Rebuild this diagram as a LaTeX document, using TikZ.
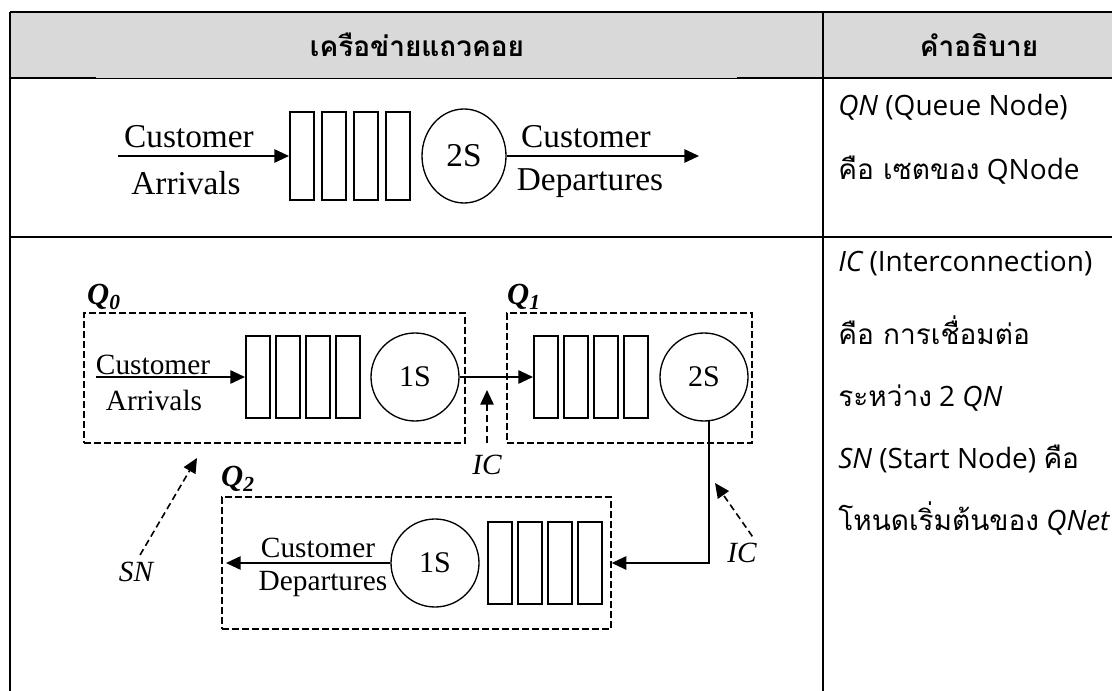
\documentclass[tikz,border=0pt]{standalone}
\usepackage{fontspec}
\setmainfont{Liberation Serif}
\newfontfamily\thaifont[Script=Thai]{Loma}
\newfontfamily\latinsans{Open Sans}
\usetikzlibrary{shapes.geometric, arrows.meta}
\definecolor{head-gray}{HTML}{D9D9D9}

\begin{document}
\begin{tikzpicture}[x=0.75pt, y=-0.75pt,
    rule/.style={line width=1.3pt},
    qbox/.style={draw, line width=1.2pt, minimum width=18pt, minimum height=61.5pt, inner sep=0pt},
    server/.style={draw, circle, line width=1pt, minimum size=66pt, inner sep=0pt,
                   font=\fontsize{22.5}{26}\selectfont},
    region/.style={draw, line width=1pt, dash pattern=on 5pt off 2.5pt, inner sep=0pt},
    flow/.style={line width=1.3pt, -{Triangle[length=11pt,width=10pt]}},
    hint/.style={line width=1.2pt, dash pattern=on 5pt off 3pt, -{Triangle[length=11pt,width=10pt]}},
    lbl/.style={font=\fontsize{22}{26}\selectfont, inner sep=0pt},
    biglbl/.style={font=\fontsize{25}{28}\selectfont, inner sep=0pt},
    qname/.style={font=\bfseries\itshape\fontsize{23}{26}\selectfont, inner sep=0pt},
    desc/.style={anchor=base west, inner sep=0pt, font=\latinsans\fontsize{21}{25}\selectfont}]
    % Pixel grid: x to the right, y downwards, 1112 x 691
    %   header band y=12..78, row 1 y=78..237, row 2 y=237..691
    %   column divider x=823
    \useasboundingbox (0,0) rectangle (1112,691);

    % table
    \fill[head-gray] (10,12) rectangle (1112,78);
    \draw[rule] (10,12) -- (1112,12);
    \draw[rule] (10,12) -- (10,691);
    \draw[rule] (823,12) -- (823,691);
    \draw[rule] (10,78) -- (96,78);
    \draw[line width=0.6pt] (96,78) -- (737,78);
    \draw[rule] (737,78) -- (1112,78);
    \draw[rule] (10,237) -- (1112,237);
    \node[font=\thaifont\bfseries\fontsize{21}{25}\selectfont] (head1) at (417,45) {เครือข่ายแถวคอย};
    \node[font=\thaifont\bfseries\fontsize{21}{25}\selectfont] (head2) at (979,45) {คำอธิบาย};

    % row 1: single queue node
    \foreach \i in {0,...,3}
      \node[qbox, anchor=west, minimum height=66pt] (ra\i) at (289+32*\i,156) {};
    \node[server, ellipse, minimum width=63pt, minimum height=70.5pt,
          font=\fontsize{25}{28}\selectfont] (srv0) at (464,156) {2S};
    \coordinate (in0) at (118,156);
    \coordinate (out0) at (699,156);
    \draw[flow] (in0) -- (ra0.west);
    \draw[flow] (srv0.east) -- (out0);
    \node[biglbl] (cust0) at (189,137) {Customer};
    \node[biglbl] (arr0) at (186,183) {Arrivals};
    \node[biglbl] (cust1) at (586,137) {Customer};
    \node[biglbl] (dep0) at (590,183) {Departures};

    % row 2: three queue nodes
    \node[region, minimum width=285.75pt, minimum height=97.5pt] (q0) at (274.5,378) {};
    \node[region, minimum width=183.75pt, minimum height=97.5pt] (q1) at (629.5,378) {};
    \node[region, minimum width=291.75pt, minimum height=99pt] (q2) at (416.5,563) {};
    \node[qname] (q0name) at (104,297) {Q\textsubscript{0}};
    \node[qname] (q1name) at (524,297) {Q\textsubscript{1}};
    \node[qname] (q2name) at (238,479) {Q\textsubscript{2}};

    \foreach \i in {0,...,3} {
      \node[qbox, anchor=west] (qa\i) at (245+30*\i,377) {};
      \node[qbox, anchor=west] (qb\i) at (533+30*\i,377) {};
      \node[qbox, anchor=west] (qc\i) at (487+30*\i,563) {};
    }
    \node[server] (s1) at (415,377) {1S};
    \node[server] (s2) at (704,377) {2S};
    \node[server] (s3) at (435,563) {1S};

    \coordinate (in1) at (96,377);
    \coordinate (out1) at (226,563);
    \draw[flow] (in1) -- (qa0.west);
    \draw[flow] (s1.east) -- (qb0.west);
    \draw[flow] (s2.-84) |- (q2.east);
    \draw[flow] (s3.west) -- (out1);
    \node[lbl] (cust2) at (153,365) {Customer};
    \node[lbl] (arr1) at (154,400) {Arrivals};
    \node[lbl] (cust3) at (318,548) {Customer};
    \node[lbl] (dep1) at (323,584) {Departures};

    % pointers
    \node[lbl, font=\itshape\fontsize{22}{26}\selectfont] (ic1) at (487,465) {IC};
    \node[lbl, font=\itshape\fontsize{22}{26}\selectfont] (ic2) at (742,553) {IC};
    \node[lbl, font=\itshape\fontsize{22}{26}\selectfont] (sn) at (136,572) {SN};
    \coordinate (ic1tip) at (487,390);
    \coordinate (ic2tip) at (715,483);
    \coordinate (sntip) at (197,458);
    \draw[hint, shorten <=9pt] (ic1) -- (ic1tip);
    \draw[hint, shorten <=6pt] (ic2.north east) -- (ic2tip);
    \draw[hint, shorten <=6pt] (sn.north) -- (sntip);

    % description column
    \node[desc] (d0) at (838,116) {\itshape QN\upshape{} (Queue Node)};
    \node[desc] (d1) at (838,180) {{\thaifont คือ เซตของ} QNode};
    \node[desc] (d2) at (838,272) {\itshape IC\upshape{} (Interconnection)};
    \node[desc] (d3) at (838,344) {\thaifont คือ การเชื่อมต่อ};
    \node[desc] (d4) at (838,406) {{\thaifont ระหว่าง} 2 \itshape QN};
    \node[desc] (d5) at (838,468) {\itshape SN\upshape{} (Start Node) {\thaifont คือ}};
    \node[desc] (d6) at (838,530) {{\thaifont โหนดเริ่มต้นของ} \itshape QNet};
  \end{tikzpicture}
\end{document}
